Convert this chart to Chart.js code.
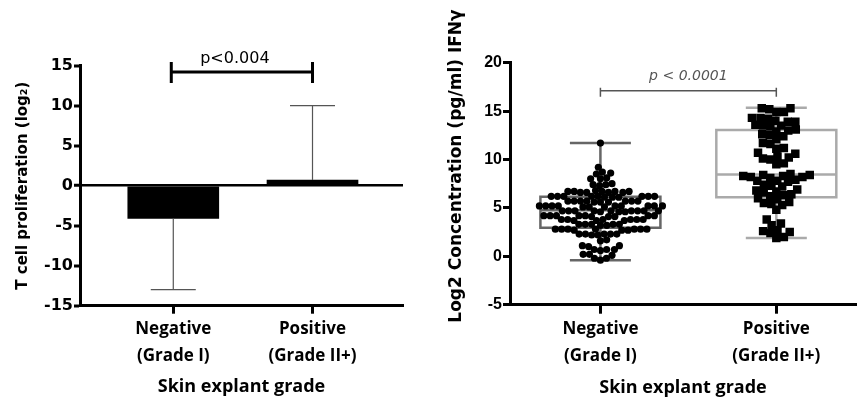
<!DOCTYPE html>
<html>
<head>
<meta charset="utf-8">
<script src="https://cdn.jsdelivr.net/npm/chart.js@4.4.1/dist/chart.umd.min.js"></script>
<style>
  html, body { margin: 0; padding: 0; background: #fff; }
  .panel { position: absolute; top: 0; height: 400px; }
</style>
</head>
<body>
<div class="panel" style="left:0;width:430px"><canvas id="prolif"></canvas></div>
<div class="panel" style="left:430px;width:432px"><canvas id="ifng"></canvas></div>
<script>
// ---- data ----
const groups = [['Negative', '(Grade I)'], ['Positive', '(Grade II+)']]
const xTitle = 'Skin explant grade'

// left panel: mean and one-sided error (signed)
const prolifMean = [-4.1, 0.7]
const prolifErr = [-8.9, 9.3]
const prolifP = 'p<0.004'
const prolifBracketY = 14.2

// right panel: individual values per group
const ifngNeg = [
  11.7, 9.2, 8.7, 8.6, 8.5, 8.1, 8.0, 8.0, 7.5, 7.4, 7.4, 7.3,
  6.8, 6.7, 6.7, 6.7, 6.6, 6.6, 6.6, 6.7, 6.6, 6.7,
  6.2, 6.2, 6.2, 6.1, 6.2, 6.2, 6.1, 6.2, 6.2, 6.1, 6.2,
  5.7, 5.7, 5.6, 5.7, 5.7, 5.6, 5.7, 5.7, 5.6, 5.7,
  5.2, 5.2, 5.2, 5.1, 5.2, 5.2, 5.2, 5.1, 5.2, 5.2, 5.2, 5.1,
  4.7, 4.7, 4.7, 4.6, 4.7, 4.7, 4.7, 4.6, 4.7, 4.7, 4.7, 4.6,
  4.2, 4.2, 4.1, 4.2, 4.2, 4.2, 4.1, 4.2, 4.2, 4.1,
  3.8, 3.7, 3.8, 3.8, 3.7, 3.8, 3.8, 3.7, 3.8,
  3.3, 3.3, 3.2, 3.3, 3.3, 3.2, 3.3,
  2.8, 2.8, 2.7, 2.8, 2.8, 2.7, 2.8, 2.8, 2.7, 2.8,
  2.3, 2.3, 2.2, 2.3, 2.3, 2.2, 2.3,
  1.7, 1.6, 1.1, 1.1, 1.0, 0.7, 0.7, 0.6, 0.7, 0.2, 0.2, 0.1,
  -0.2, -0.2, -0.4
]
const ifngPos = [
  15.3, 15.3, 15.2, 14.9, 14.9, 14.3, 14.3, 14.2, 14.0, 13.9, 13.9,
  13.6, 13.5, 13.5, 13.4, 13.1, 13.0, 12.9, 12.6, 12.5, 12.4, 12.1,
  11.7, 11.6, 11.2, 11.1, 10.7, 10.6, 10.3, 10.2, 10.1, 10.0, 9.6, 9.5,
  8.5, 8.4, 8.4, 8.3, 8.3, 8.2, 8.2, 8.1, 7.9, 7.8, 7.8, 7.7,
  7.4, 7.3, 7.2, 6.9, 6.8, 6.7, 6.6, 6.4, 6.3, 6.2, 6.0, 5.9,
  5.6, 5.5, 5.4, 5.3, 4.8, 3.8, 3.4, 3.2, 2.7, 2.6, 2.5, 2.4, 2.0, 1.9
]
const boxMin = [-0.4, 1.9]
const boxQ1 = [2.95, 6.1]
const boxMed = [4.75, 8.45]
const boxQ3 = [6.15, 13.05]
const boxMax = [11.7, 15.35]
const ifngP = 'p < 0.0001'
const ifngBracketY = 17.1
const ifngYTitle = 'Log2 Concentration (pg/ml) IFNγ'

Chart.defaults.color = '#000'
Chart.defaults.animation = false

const catFont = { family: 'Open Sans', size: 17, weight: 'bold', lineHeight: 1.6 }
const titleFont = { family: 'Open Sans', size: 18, weight: 'bold' }

// ---- left: bars with error bars ----
const errorBars = {
  id: 'errorBars',
  afterDatasetsDraw(chart) {
    const { ctx, scales: { x, y } } = chart
    ctx.save()
    ctx.strokeStyle = '#555'
    ctx.lineWidth = 1.2
    prolifMean.forEach((m, i) => {
      const px = x.getPixelForValue(i)
      const y0 = y.getPixelForValue(m)
      const y1 = y.getPixelForValue(m + prolifErr[i])
      ctx.beginPath()
      ctx.moveTo(px, y0); ctx.lineTo(px, y1)
      ctx.moveTo(px - 22.5, y1); ctx.lineTo(px + 22.5, y1)
      ctx.stroke()
    })
    // significance bracket
    const xa = x.getPixelForValue(0) - 2, xb = x.getPixelForValue(1)
    const yb = y.getPixelForValue(prolifBracketY)
    ctx.strokeStyle = '#000'
    ctx.lineWidth = 3
    ctx.beginPath()
    ctx.moveTo(xa, yb); ctx.lineTo(xb, yb)
    ctx.moveTo(xa, yb - 10); ctx.lineTo(xa, yb + 11)
    ctx.moveTo(xb, yb - 10); ctx.lineTo(xb, yb + 11)
    ctx.stroke()
    ctx.fillStyle = '#000'
    ctx.font = '16px "DejaVu Sans"'
    ctx.textAlign = 'center'
    ctx.textBaseline = 'alphabetic'
    ctx.fillText(prolifP, (xa + xb) / 2 - 7, yb - 9)
    ctx.restore()
  }
}

new Chart(document.getElementById('prolif'), {
  type: 'bar',
  data: {
    datasets: [{
      data: prolifMean.map((m, i) => ({ x: i, y: m })),
      backgroundColor: '#000',
      barThickness: 91
    }]
  },
  options: {
    responsive: true,
    maintainAspectRatio: false,
    layout: { padding: { left: 10, top: 65.7, right: 27, bottom: 0 } },
    plugins: { legend: { display: false }, tooltip: { enabled: false } },
    scales: {
      x: {
        type: 'linear', min: -0.67, max: 1.65, offset: false,
        afterBuildTicks: (s) => { s.ticks = groups.map((g, i) => ({ value: i })) },
        afterFit: (s) => { s.height = 94.3 },
        ticks: { callback: (v) => groups[v], font: catFont, padding: 2, maxRotation: 0 },
        grid: { drawOnChartArea: false, offset: false, tickLength: 8, tickColor: '#000', tickWidth: 3 },
        border: { color: '#000', width: 3 },
        title: { display: true, text: xTitle, font: titleFont, padding: { top: 0, bottom: 2 } }
      },
      y: {
        min: -15, max: 15,
        ticks: { stepSize: 5, font: { family: 'DejaVu Sans', size: 16, weight: 'bold' }, padding: 1 },
        afterFit: (s) => { s.width = 70 },
        grid: {
          color: (c) => c.tick && c.tick.value === 0 ? '#000' : 'rgba(0,0,0,0)',
          lineWidth: (c) => c.tick && c.tick.value === 0 ? 2.5 : 0,
          tickColor: '#000', tickWidth: 3, tickLength: 6
        },
        border: { color: '#000', width: 3 },
        title: { display: true, text: 'T cell proliferation (log₂)', font: { family: 'DejaVu Sans', size: 15, weight: 'bold' } }
      }
    }
  },
  plugins: [errorBars]
})

// ---- right: box plot with swarm ----
const boxes = {
  id: 'boxes',
  beforeDatasetsDraw(chart) {
    const { ctx, scales: { x, y } } = chart
    const colors = ['#666', '#aaa']
    ctx.save()
    ctx.lineWidth = 2.5
    boxQ1.forEach((q1, i) => {
      const cx = x.getPixelForValue(i + 1)
      const hw = 60, cw = 30.5
      const p = (v) => y.getPixelForValue(v)
      ctx.strokeStyle = colors[i]
      ctx.beginPath()
      ctx.rect(cx - hw, p(boxQ3[i]), 2 * hw, p(q1) - p(boxQ3[i]))
      ctx.moveTo(cx - hw, p(boxMed[i])); ctx.lineTo(cx + hw, p(boxMed[i]))
      ctx.moveTo(cx, p(q1)); ctx.lineTo(cx, p(boxMin[i]))
      ctx.moveTo(cx, p(boxQ3[i])); ctx.lineTo(cx, p(boxMax[i]))
      ctx.moveTo(cx - cw, p(boxMin[i])); ctx.lineTo(cx + cw, p(boxMin[i]))
      ctx.moveTo(cx - cw, p(boxMax[i])); ctx.lineTo(cx + cw, p(boxMax[i]))
      ctx.stroke()
    })
    ctx.restore()
  },
  afterDraw(chart) {
    const { ctx, scales: { x, y } } = chart
    ctx.save()
    // bracket
    const xa = x.getPixelForValue(1), xb = x.getPixelForValue(2)
    const yb = y.getPixelForValue(ifngBracketY)
    ctx.strokeStyle = '#555'
    ctx.lineWidth = 1.5
    ctx.beginPath()
    ctx.moveTo(xa, yb); ctx.lineTo(xb, yb)
    ctx.moveTo(xa, yb - 3); ctx.lineTo(xa, yb + 6)
    ctx.moveTo(xb, yb - 3); ctx.lineTo(xb, yb + 6)
    ctx.stroke()
    ctx.fillStyle = '#555'
    ctx.font = 'italic 14px "DejaVu Sans"'
    ctx.textAlign = 'center'
    ctx.textBaseline = 'middle'
    ctx.fillText(ifngP, (xa + xb) / 2, yb - 14)
    // y title
    ctx.fillStyle = '#000'
    ctx.font = 'bold 17px "DejaVu Sans"'
    ctx.translate(27, 166)
    ctx.rotate(-Math.PI / 2)
    ctx.fillText(ifngYTitle, 0, 0)
    ctx.restore()
  }
}

const ifngChart = new Chart(document.getElementById('ifng'), {
  type: 'scatter',
  data: {
    datasets: [
      { data: ifngNeg.map(v => ({ x: 1, y: v })), pointStyle: 'circle', radius: 3.6,
        backgroundColor: '#000', borderWidth: 0 },
      { data: ifngPos.map(v => ({ x: 2, y: v })), pointStyle: 'rect', radius: 6,
        backgroundColor: '#000', borderWidth: 0 }
    ]
  },
  options: {
    responsive: true,
    maintainAspectRatio: false,
    layout: { padding: { left: 0, top: 62.7, right: 0, bottom: 0 } },
    plugins: { legend: { display: false }, tooltip: { enabled: false } },
    scales: {
      x: {
        type: 'linear', min: 0.486, max: 2.453,
        afterBuildTicks: (s) => { s.ticks = groups.map((g, i) => ({ value: i + 1 })) },
        afterFit: (s) => { s.height = 95.3 },
        ticks: { callback: (v) => groups[v - 1], font: catFont, padding: 2, maxRotation: 0 },
        grid: { drawOnChartArea: false, tickLength: 9, tickColor: '#000', tickWidth: 3 },
        border: { color: '#000', width: 3 },
        title: { display: true, text: xTitle, font: titleFont, padding: { top: 0, bottom: 1 } }
      },
      y: {
        min: -5, max: 20,
        ticks: { stepSize: 5, font: { family: 'Liberation Sans', size: 16, weight: 'bold' }, padding: 1 },
        afterFit: (s) => { s.width = 80 },
        grid: { drawOnChartArea: false, tickColor: '#000', tickWidth: 3, tickLength: 7 },
        border: { color: '#000', width: 3 }
      }
    }
  },
  plugins: [boxes]
})

// beeswarm layout of the points, done in pixel space with the chart's own scales
function swarm(values, center, diam) {
  const sx = ifngChart.scales.x, sy = ifngChart.scales.y
  const cx = sx.getPixelForValue(center)
  const order = values.map((v, i) => i).sort((a, b) => values[a] - values[b])
  const placed = []
  const out = new Array(values.length)
  for (const i of order) {
    const py = sy.getPixelForValue(values[i])
    const cands = [0]
    for (const p of placed) {
      const dy = Math.abs(p.y - py)
      if (dy < diam) {
        const dx = Math.sqrt(diam * diam - dy * dy)
        cands.push(p.x + dx, p.x - dx)
      }
    }
    cands.sort((a, b) => Math.abs(a) - Math.abs(b))
    let best = 0
    for (const c of cands) {
      if (placed.every(p => (p.x - c) ** 2 + (p.y - py) ** 2 >= diam * diam - 0.01)) { best = c; break }
    }
    placed.push({ x: best, y: py })
    out[i] = { x: sx.getValueForPixel(cx + best), y: values[i] }
  }
  return out
}

ifngChart.data.datasets[0].data = swarm(ifngNeg, 1, 6.3)
ifngChart.data.datasets[1].data = swarm(ifngPos, 2, 7.6)
ifngChart.update('none')
</script>
</body>
</html>
